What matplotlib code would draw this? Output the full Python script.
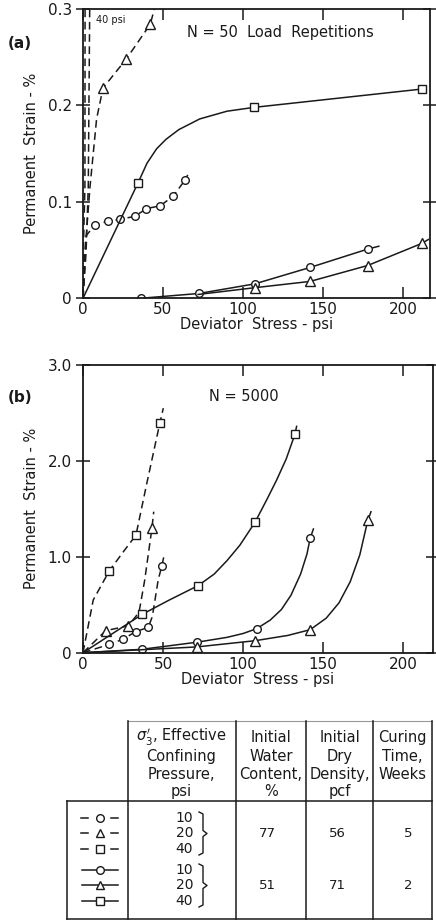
import matplotlib
matplotlib.use("Agg")
import matplotlib.pyplot as plt

plt.rcParams['font.family'] = ['DejaVu Sans']

# ---- panel (a): N = 50 load repetitions ----
# dashed = 77 % water content, solid = 51 % water content
a_d10_x = [0, 2, 7.4, 15.5, 23.4, 32.4, 39.7, 48.4, 56.4, 64, 65.5]
a_d10_y = [0, 0.065, 0.076, 0.080, 0.082, 0.085, 0.093, 0.096, 0.106, 0.123, 0.128]
a_d10_m = [2, 3, 4, 5, 6, 7, 8, 9]

a_d20_x = [0, 1.2, 4.4, 8.5, 12.5, 27, 42, 45]
a_d20_y = [0, 0.047, 0.116, 0.186, 0.218, 0.248, 0.284, 0.302]
a_d20_m = [4, 5, 6]

a_d40a_x = [0, 0.2, 1.2, 1.3]
a_d40a_y = [0, 0.047, 0.116, 0.302]
a_d40b_x = [0, 1.9, 3.3, 4.2]
a_d40b_y = [0, 0.047, 0.116, 0.302]

a_s10_x = [36, 72.5, 107.5, 142, 178, 185]
a_s10_y = [0, 0.005, 0.015, 0.032, 0.051, 0.054]
a_s10_m = [0, 1, 2, 3, 4]

a_s20_x = [72, 107.5, 142, 178, 212, 216]
a_s20_y = [0.004, 0.011, 0.0175, 0.034, 0.057, 0.061]
a_s20_m = [1, 2, 3, 4]

a_s40_x = [0, 34.5, 40, 46, 52, 60, 73, 90, 107, 212]
a_s40_y = [0, 0.120, 0.140, 0.155, 0.165, 0.175, 0.186, 0.194, 0.198, 0.217]
a_s40_m = [1, 8, 9]

# ---- panel (b): N = 5000 ----
b_d10_x = [0, 16.5, 24.8, 33.1, 40.8, 43.3, 45, 47, 49.2, 51]
b_d10_y = [0, 0.087, 0.14, 0.22, 0.265, 0.375, 0.55, 0.76, 0.90, 1.04]
b_d10_m = [1, 2, 3, 4, 8]

b_d20_x = [0, 14.2, 28.3, 35, 38.5, 43.1, 44.2]
b_d20_y = [0, 0.23, 0.28, 0.42, 0.75, 1.30, 1.47]
b_d20_m = [1, 2, 5]

b_d40_x = [0, 6.4, 16.5, 26, 33.1, 39.8, 48.1, 50.2]
b_d40_y = [0, 0.55, 0.855, 1.07, 1.226, 1.76, 2.40, 2.55]
b_d40_m = [2, 4, 6]

b_s10_x = [0, 36.6, 71.5, 90, 100, 108.5, 117, 124, 130, 136, 140, 142, 144]
b_s10_y = [0, 0.035, 0.11, 0.16, 0.20, 0.25, 0.34, 0.45, 0.60, 0.82, 1.03, 1.195, 1.29]
b_s10_m = [1, 2, 5, 11]

b_s20_x = [0, 71, 107.5, 128, 142, 152, 160, 167, 173, 178, 180]
b_s20_y = [0, 0.06, 0.125, 0.18, 0.24, 0.36, 0.52, 0.74, 1.02, 1.38, 1.47]
b_s20_m = [1, 2, 4, 9]

b_s40_x = [0, 37, 54, 72, 82, 90, 98, 107.5, 115, 121, 127, 132.5, 133.5]
b_s40_y = [0, 0.40, 0.55, 0.70, 0.82, 0.96, 1.12, 1.36, 1.60, 1.80, 2.02, 2.28, 2.36]
b_s40_m = [1, 3, 7, 11]

xticks = [0, 50, 100, 150, 200]
a_yticks = [0, 0.1, 0.2, 0.3]
a_ylabels = ['0', '0.1', '0.2', '0.3']
b_yticks = [0, 1.0, 2.0, 3.0]
b_ylabels = ['0', '1.0', '2.0', '3.0']

# ---- table ----
pressures = ['10', '20', '40']
water = ['77', '51']
density = ['56', '71']
curing = ['5', '2']
headers = [
    [r"$\sigma_3'$, Effective", 'Confining', 'Pressure,', 'psi'],
    ['Initial', 'Water', 'Content,', '%'],
    ['Initial', 'Dry', 'Density,', 'pcf'],
    ['Curing', 'Time,', 'Weeks'],
]

INK = '#1a1a1a'
dash = (0, (5, 3))

fig = plt.figure(figsize=(4.36, 9.22), dpi=100)

# table layer in pixel coordinates
tb = fig.add_axes([0, 0, 1, 1])
tb.set_xlim(0, 436)
tb.set_ylim(922, 0)
tb.axis('off')


def series(ax, x, y, mk, ls, marker, ms):
    ax.plot(x, y, color=INK, lw=1.1, ls=ls, marker=marker, markevery=mk,
            ms=ms, mfc='white', mec=INK, mew=1.0, clip_on=True)


def style(ax, xmax, ymax, yt, yl):
    ax.set_xlim(0, xmax)
    ax.set_ylim(0, ymax)
    ax.set_xticks(xticks)
    ax.set_xticklabels([str(t) for t in xticks], fontsize=11)
    ax.set_yticks(yt)
    ax.set_yticklabels(yl, fontsize=11)
    for s in ax.spines.values():
        s.set_linewidth(1.3)
        s.set_color(INK)
    ax.tick_params(axis='both', direction='in', length=8, width=1.1,
                   top=True, right=True, colors=INK, pad=3)
    ax.tick_params(axis='y', direction='inout', length=10)
    ax.set_xlabel('Deviator  Stress - psi', fontsize=10.5, labelpad=0, color=INK)
    ax.set_ylabel('Permanent  Strain - %', fontsize=10.5, labelpad=6, color=INK)


# panel (a)
ax1 = fig.add_axes([83/436, 1 - 298.3/922, 347/436, 289.3/922])
style(ax1, 217, 0.3, a_yticks, a_ylabels)
series(ax1, a_d10_x, a_d10_y, a_d10_m, dash, 'o', 5.5)
series(ax1, a_d20_x, a_d20_y, a_d20_m, dash, '^', 6.5)
series(ax1, a_d40a_x, a_d40a_y, [], dash, None, 0)
series(ax1, a_d40b_x, a_d40b_y, [], dash, None, 0)
series(ax1, a_s10_x, a_s10_y, a_s10_m, '-', 'o', 5.5)
series(ax1, a_s20_x, a_s20_y, a_s20_m, '-', '^', 6.5)
series(ax1, a_s40_x, a_s40_y, a_s40_m, '-', 's', 6)
ax1.text(8, 0.285, '40 psi', fontsize=7, color=INK)
ax1.text(0.57, 0.92, 'N = 50  Load  Repetitions', transform=ax1.transAxes,
         fontsize=10.5, ha='center', va='center', color=INK)
fig.text(8/436, 1 - 43/922, '(a)', fontsize=11, fontweight='bold', color=INK,
         va='center')

# panel (b)
ax2 = fig.add_axes([83/436, 1 - 652.7/922, 350/436, 287.7/922])
style(ax2, 218.75, 3.0, b_yticks, b_ylabels)
series(ax2, b_d10_x, b_d10_y, b_d10_m, dash, 'o', 5.5)
series(ax2, b_d20_x, b_d20_y, b_d20_m, dash, '^', 6.5)
series(ax2, b_d40_x, b_d40_y, b_d40_m, dash, 's', 6)
series(ax2, b_s10_x, b_s10_y, b_s10_m, '-', 'o', 5.5)
series(ax2, b_s20_x, b_s20_y, b_s20_m, '-', '^', 6.5)
series(ax2, b_s40_x, b_s40_y, b_s40_m, '-', 's', 6)
ax2.text(0.46, 0.89, 'N = 5000', transform=ax2.transAxes,
         fontsize=10.5, ha='center', va='center', color=INK)
fig.text(8/436, 1 - 397/922, '(b)', fontsize=11, fontweight='bold', color=INK,
         va='center')

# table grid
lw_t = 1.1
cols = [128, 236, 306, 373, 432]
top, sep, bot, left = 721, 801, 919, 67
tb.plot([cols[0], cols[-1]], [top, top], color='#999999', lw=0.8)
tb.plot([left, cols[-1]], [sep, sep], color=INK, lw=lw_t)
tb.plot([left, cols[-1]], [bot, bot], color=INK, lw=lw_t)
tb.plot([left, left], [sep, bot], color=INK, lw=lw_t)
for c in cols:
    tb.plot([c, c], [top, bot], color=INK, lw=lw_t)

centers = [181, 271, 339.5, 402.5]
hy = [737, 756, 774, 791]
for cx, lines in zip(centers, headers):
    for yy, t in zip(hy, lines):
        tb.text(cx, yy, t, fontsize=10.5, ha='center', va='center', color=INK)

rows_y = [818, 833, 849, 870, 885, 901]
mks = ['o', '^', 's', 'o', '^', 's']
for i, (yy, m) in enumerate(zip(rows_y, mks)):
    if i < 3:
        tb.plot([81, 88], [yy, yy], color=INK, lw=1.1)
        tb.plot([111, 118], [yy, yy], color=INK, lw=1.1)
    else:
        tb.plot([82, 118], [yy, yy], color=INK, lw=1.1)
    tb.plot([100], [yy], marker=m, ms=5.5, mfc='white', mec=INK, mew=1.0)
    tb.text(193, yy, pressures[i % 3], fontsize=10, ha='right', va='center',
            color=INK)

for g in range(2):
    y0, y1 = rows_y[3*g] - 6, rows_y[3*g + 2] + 6
    ym = (y0 + y1) / 2
    tb.plot([199, 203, 203, 207, 203, 203, 199],
            [y0, y0 + 2, ym - 3, ym, ym + 3, y1 - 2, y1], color=INK, lw=1.0)
    tb.text(267, rows_y[3*g + 1], water[g], fontsize=9.5, ha='center',
            va='center', color=INK)
    tb.text(337, rows_y[3*g + 1], density[g], fontsize=9.5, ha='center',
            va='center', color=INK)
    tb.text(408, rows_y[3*g + 1], curing[g], fontsize=9.5, ha='center',
            va='center', color=INK)

fig.savefig('out.png', dpi=100)
